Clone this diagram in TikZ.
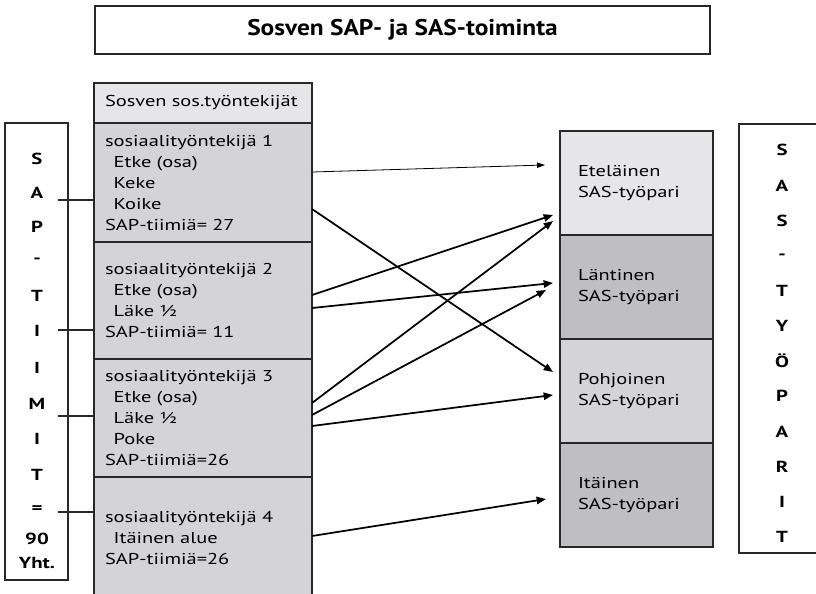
\documentclass[tikz,border=0pt]{standalone}
\usepackage{fontspec}
\setmainfont{PT Sans}
\newfontfamily\wideface{PT Sans}[FakeStretch=1.3]
\newfontfamily\titleface{PT Sans}[FakeStretch=1.12]
\usetikzlibrary{positioning,arrows.meta,calc}
\definecolor{paleg}{RGB}{230,230,232}
\definecolor{midg}{RGB}{212,212,214}
\definecolor{darkg}{RGB}{191,191,195}
\definecolor{edge}{RGB}{40,40,40}
\newcommand{\bodyfont}{\wideface\fontsize{11.8}{15.75}\selectfont}
\newcommand{\ind}{\hspace*{0.55em}}

\begin{document}
\begin{tikzpicture}[x=0.75pt,y=-0.75pt,
    cell/.style={draw=edge,line width=0.8pt,inner sep=0pt,outer sep=0pt},
    colcell/.style={cell,fill=midg,minimum width=163.5pt,text width=147pt,
      align=left,font=\bodyfont},
    sascell/.style={cell,minimum width=114.75pt,minimum height=78pt,
      text width=87.75pt,align=left,font=\bodyfont},
    letter/.style={font=\wideface\fontsize{12}{14}\selectfont\bfseries,inner sep=0pt},
    link/.style={draw=edge,line width=0.8pt},
    flow/.style={-{Triangle[length=7pt,width=5.5pt]},line width=1.3pt},
    thinflow/.style={-{Triangle[length=6pt,width=4pt]},line width=0.6pt}]
  \useasboundingbox (0,0) rectangle (816,593);
  \clip (0,0) rectangle (816,593);

  % title
  \node[cell,line width=1pt,minimum width=461.25pt,minimum height=36pt,
    font=\titleface\fontsize{17}{20}\selectfont\bfseries] (title) at (402.5,30)
    {Sosven SAP- ja SAS-toiminta};

  % social workers column
  \node[colcell,fill=paleg,minimum height=30pt,anchor=north west] (head) at (94,83)
    {Sosven sos.työntekijät};
  \node[colcell,minimum height=89.25pt,below=0pt of head] (sos1)
    {sosiaalityöntekijä 1\\\ind Etke (osa)\\\ind Keke\\\ind Koike\\SAP-tiimiä= 27};
  \node[colcell,minimum height=87.75pt,below=0pt of sos1] (sos2)
    {sosiaalityöntekijä 2\\\ind Etke (osa)\\\ind Läke ½\\SAP-tiimiä= 11};
  \node[colcell,minimum height=88.5pt,below=0pt of sos2] (sos3)
    {sosiaalityöntekijä 3\\\ind Etke (osa)\\\ind Läke ½\\\ind Poke\\SAP-tiimiä=26};
  \node[colcell,minimum height=91.5pt,below=0pt of sos3] (sos4)
    {sosiaalityöntekijä 4\\\ind Itäinen alue\\SAP-tiimiä=26};

  % SAS pairs column
  \node[sascell,fill=paleg,anchor=north west] (etel) at (560,131)
    {Eteläinen\\SAS-työpari};
  \node[sascell,fill=darkg,below=0pt of etel] (lant) {Läntinen\\SAS-työpari};
  \node[sascell,fill=midg,below=0pt of lant] (pohj) {Pohjoinen\\SAS-työpari};
  \node[sascell,fill=darkg,below=0pt of pohj] (ita) {Itäinen\\SAS-työpari};

  % side boxes
  \node[cell,minimum width=47.25pt,minimum height=342.75pt,anchor=north west]
    (sap) at (5,123) {};
  \node[cell,minimum width=68pt,minimum height=321.75pt,anchor=north west]
    (sas) at (739,124) {};
  \foreach \ch/\yy [count=\i] in {S/159,A/193,P/227,-/261,T/296,I/331,I/368,
      M/404,I/439,T/475,=/510,90/539,Yht./563}
    \node[letter] (sapL\i) at (37,\yy) {\ch};
  \foreach \ch/\yy [count=\i] in {S/150,A/186,S/221,-/257,T/291,Y/326,Ö/361,
      P/396,A/432,R/467,I/502,T/537}
    \node[letter] (sasL\i) at (782,\yy) {\ch};

  % SAP team links
  \draw[link] ($(sos1.west)+(0,17.5)$) -- ($(sap.east |- sos1.west)+(-10,17.5)$);
  \draw[link] ($(sos2.west)+(0,29.5)$) -- ($(sap.east |- sos2.west)+(-10,29.5)$);
  \draw[link] ($(sos3.west)+(0,-2)$) -- ($(sap.east |- sos3.west)+(-10,-2)$);
  \draw[link] ($(sos4.west)+(0,-26)$) -- ($(sap.east |- sos4.west)+(-10,-26)$);

  % assignments to SAS pairs
  \draw[thinflow] ($(sos1.east)+(0,-10.5)$) -- ($(etel.west)+(-15,-18)$);
  \draw[flow] ($(sos1.east)+(0,26.5)$) -- ($(pohj.west)+(-7,-19)$);
  \draw[flow] ($(sos2.east)+(0,-5.5)$) -- ($(etel.west)+(-7,32)$);
  \draw[flow] ($(sos2.east)+(0,7.5)$) -- ($(lant.west)+(-7,-4)$);
  \draw[flow] ($(sos3.east)+(0,-15)$) -- ($(etel.west)+(-7,38)$);
  \draw[flow] ($(sos3.east)+(0,-3)$) -- ($(lant.west)+(-14,3)$);
  \draw[flow] ($(sos3.east)+(0,8)$) -- ($(pohj.west)+(-7,4)$);
  \draw[flow] ($(sos4.east)+(0,-2)$) -- ($(ita.west)+(-14,4)$);
\end{tikzpicture}
\end{document}
